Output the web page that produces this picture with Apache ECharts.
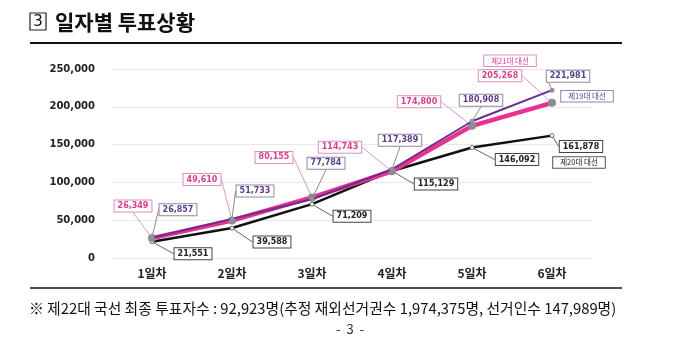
<!DOCTYPE html>
<html>
<head>
<meta charset="utf-8">
<script src="https://cdn.jsdelivr.net/npm/echarts@6/dist/echarts.min.js"></script>
<style>
  html, body { margin: 0; padding: 0; background: #fff; }
  #main { width: 700px; height: 354px; }
</style>
</head>
<body>
<div id="main"></div>
<script>
// 일자별 재외투표 누적 투표자수
var days = ['1일차', '2일차', '3일차', '4일차', '5일차', '6일차'];
var yTicks = [0, 50000, 100000, 150000, 200000, 250000];
var vote19 = [26857, 51733, 77784, 117389, 180908, 221981];   // 제19대 대선
var vote20 = [21551, 39588, 71209, 115129, 146092, 161878];   // 제20대 대선
var vote21 = [26349, 49610, 80155, 114743, 174800, 205268];   // 제21대 대선

// 라벨 박스 위치 (점 기준 이동량)
var off19 = [[26, -28], [23, -28], [14, -36], [8, -29], [9, -21], [16, -14]];
var off20 = [[41, 12], [40, 14], [40, 12], [44, 13], [45, 12], [29, 11]];
var off21 = [[-19, -32], [-30, -41], [-38, -40], [-52, -24], [-53, -24], [-52, -27]];

var numFont = '"DejaVu Sans", Verdana, sans-serif';
var korFont = '"Noto Sans CJK KR", sans-serif';

function fmt(v) {
    return String(v).replace(/\B(?=(\d{3})+(?!\d))/g, ',');
}

function layoutBy(off) {
    return function(p) {
        var o = off[p.dataIndex];
        if (!o || !p.rect) return {};
        return {
            x: p.rect.x + p.rect.width / 2 + o[0],
            y: p.rect.y + p.rect.height / 2 + o[1],
            align: 'center',
            verticalAlign: 'middle'
        };
    };
}

function boxLabel(color, border) {
    return {
        show: true,
        formatter: function(p) { return fmt(p.value); },
        color: color,
        fontFamily: numFont,
        fontWeight: 'bold',
        fontSize: 8,
        backgroundColor: '#fff',
        borderColor: border,
        borderWidth: 1,
        padding: [2, 3, 1, 3]
    };
}

function nameLabel(color, border, offset) {
    return {
        show: true,
        formatter: '{a}',
        color: color,
        fontFamily: korFont,
        fontSize: 7.5,
        backgroundColor: '#fff',
        borderColor: border,
        borderWidth: 1,
        padding: [2, 7, 1, 7],
        distance: 0,
        align: 'center',
        offset: offset
    };
}

var chart = echarts.init(document.getElementById('main'));
chart.setOption({
    animation: false,
    backgroundColor: '#fff',
    grid: { left: 112, right: 108, top: 69, bottom: 96 },
    xAxis: {
        type: 'category',
        data: days,
        axisTick: { show: false },
        axisLine: { show: false },
        axisLabel: {
            margin: 9,
            color: '#222',
            fontFamily: korFont,
            fontWeight: 'bold',
            fontSize: 12
        }
    },
    yAxis: {
        type: 'value',
        min: yTicks[0],
        max: yTicks[yTicks.length - 1],
        interval: yTicks[1] - yTicks[0],
        axisLine: { show: false },
        axisTick: { show: false },
        splitLine: { lineStyle: { color: '#e9e9e9', width: 1 } },
        axisLabel: {
            margin: 17,
            color: '#222',
            fontFamily: numFont,
            fontWeight: 'bold',
            fontSize: 10,
            formatter: function(v) { return fmt(v); }
        }
    },
    series: [{
        name: '제20대 대선',
        type: 'line',
        data: vote20,
        z: 2,
        symbol: 'circle',
        symbolSize: 4,
        itemStyle: { color: '#fff', borderColor: '#666', borderWidth: 1 },
        lineStyle: { color: '#111', width: 2.5 },
        label: boxLabel('#222', '#444'),
        labelLine: { show: true, lineStyle: { color: '#666', width: 1 } },
        labelLayout: layoutBy(off20),
        endLabel: nameLabel('#222', '#555', [27, 27])
    }, {
        name: '제21대 대선',
        type: 'line',
        data: vote21,
        z: 3,
        symbol: 'circle',
        symbolSize: 8,
        itemStyle: { color: '#8c8c8c' },
        lineStyle: { color: '#e9318d', width: 4.5 },
        label: boxLabel('#d6408f', '#dc8fb8'),
        labelLine: { show: true, lineStyle: { color: '#dc9cc0', width: 1 } },
        labelLayout: layoutBy(off21),
        endLabel: nameLabel('#d6408f', '#dc8fb8', [-42, -42])
    }, {
        name: '제19대 대선',
        type: 'line',
        data: vote19,
        z: 4,
        symbol: 'circle',
        symbolSize: 5,
        itemStyle: { color: '#9a8aaa' },
        lineStyle: { color: '#6a2d90', width: 2 },
        label: boxLabel('#5d3f8e', '#8b8b96'),
        labelLine: { show: true, lineStyle: { color: '#8a8a8a', width: 1 } },
        labelLayout: layoutBy(off19),
        endLabel: nameLabel('#6a3c96', '#8b8b96', [35, 6])
    }],
    graphic: [{
        type: 'rect',
        shape: { x: 30, y: 13, width: 16, height: 17 },
        style: { fill: '#fff', stroke: '#222', lineWidth: 1.2 }
    }, {
        type: 'text',
        x: 38, y: 22,
        style: {
            text: '3', fill: '#111', font: '15px ' + numFont,
            align: 'center', verticalAlign: 'middle'
        }
    }, {
        type: 'text',
        x: 55, y: 22,
        style: {
            text: '일자별 투표상황', fill: '#111',
            font: 'bold 21px ' + korFont, verticalAlign: 'middle'
        }
    }, {
        type: 'line',
        shape: { x1: 30, y1: 43, x2: 622, y2: 43 },
        style: { stroke: '#111', lineWidth: 2 }
    }, {
        type: 'line',
        shape: { x1: 30, y1: 288, x2: 622, y2: 288 },
        style: { stroke: '#111', lineWidth: 1.5 }
    }, {
        type: 'text',
        x: 29, y: 308,
        style: {
            text: '※ 제22대 국선 최종 투표자수 : 92,923명(추정 재외선거권수 1,974,375명, 선거인수 147,989명)',
            fill: '#111', font: '14.8px ' + korFont, verticalAlign: 'middle'
        }
    }, {
        type: 'text',
        x: 350, y: 329,
        style: {
            text: '-  3  -', fill: '#333', font: '13px ' + korFont,
            align: 'center', verticalAlign: 'middle'
        }
    }]
});
</script>
</body>
</html>
